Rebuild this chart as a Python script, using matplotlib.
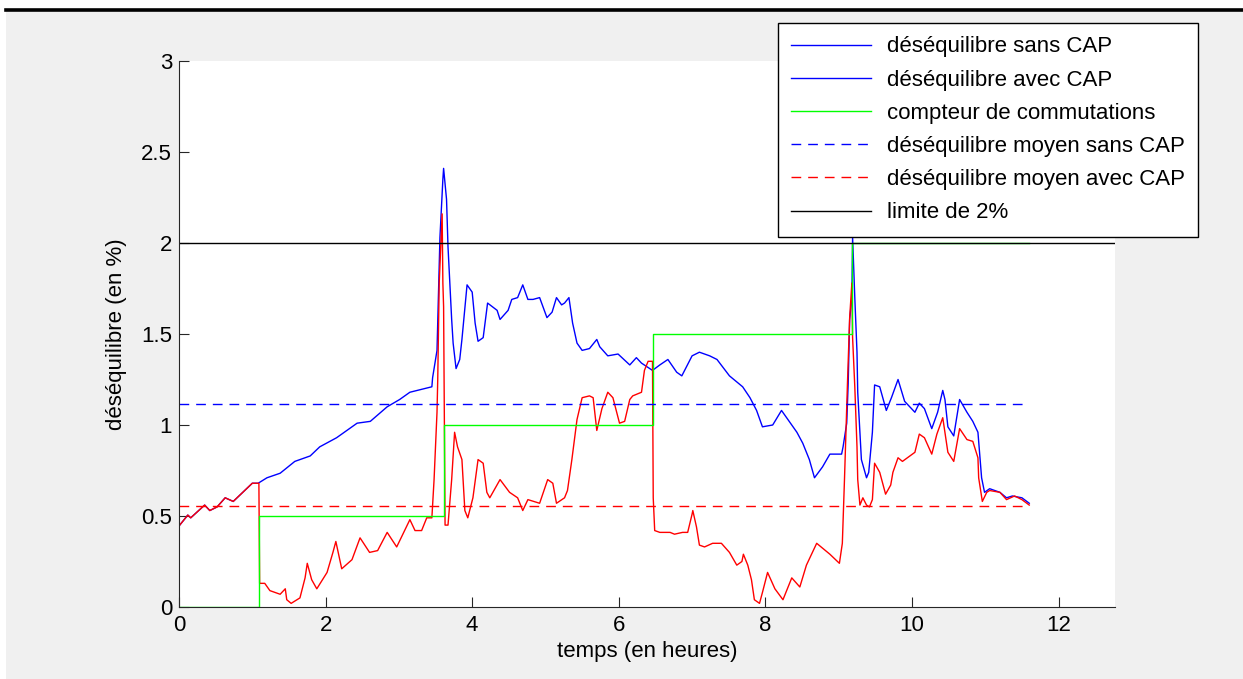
import matplotlib
matplotlib.use("Agg")
import matplotlib.pyplot as plt
from matplotlib.lines import Line2D
from matplotlib.patches import Rectangle
from matplotlib.ticker import FormatStrFormatter

plt.rcParams["font.family"] = ["Liberation Sans", "DejaVu Sans"]

# déséquilibre sans CAP (temps en heures, déséquilibre en %)
t_sans = [0.00, 0.12, 0.16, 0.35, 0.42, 0.52, 0.63, 0.74, 1.00, 1.08, 1.20, 1.38,
          1.58, 1.79, 1.92, 2.15, 2.43, 2.61, 2.84, 3.01, 3.15, 3.45, 3.46, 3.52,
          3.53, 3.56, 3.60, 3.61, 3.65, 3.67, 3.70, 3.72, 3.74, 3.78, 3.83, 3.86,
          3.93, 4.00, 4.04, 4.08, 4.15, 4.21, 4.34, 4.38, 4.49, 4.54, 4.62, 4.69,
          4.76, 4.83, 4.92, 5.02, 5.09, 5.15, 5.22, 5.26, 5.32, 5.37, 5.43, 5.50,
          5.60, 5.70, 5.74, 5.85, 5.99, 6.15, 6.24, 6.31, 6.46, 6.56, 6.67, 6.79,
          6.86, 7.00, 7.10, 7.24, 7.34, 7.51, 7.69, 7.79, 7.88, 7.96, 8.10, 8.22,
          8.29, 8.43, 8.51, 8.60, 8.67, 8.78, 8.88, 9.04, 9.06, 9.11, 9.13, 9.15,
          9.18, 9.19, 9.22, 9.25, 9.26, 9.31, 9.38, 9.41, 9.46, 9.49, 9.56, 9.63,
          9.65, 9.72, 9.81, 9.90, 10.04, 10.10, 10.17, 10.27, 10.35, 10.42, 10.45,
          10.49, 10.57, 10.65, 10.75, 10.83, 10.90, 10.95, 10.99, 11.06, 11.20,
          11.29, 11.37, 11.50, 11.60]
d_sans = [0.445, 0.505, 0.49, 0.56, 0.53, 0.55, 0.60, 0.58, 0.68, 0.68, 0.71, 0.735,
          0.80, 0.83, 0.88, 0.93, 1.01, 1.02, 1.10, 1.14, 1.18, 1.21, 1.26, 1.41,
          1.56, 2.03, 2.35, 2.41, 2.24, 1.98, 1.74, 1.58, 1.45, 1.31, 1.36, 1.47,
          1.77, 1.73, 1.56, 1.46, 1.48, 1.67, 1.63, 1.58, 1.63, 1.69, 1.70, 1.77,
          1.69, 1.69, 1.70, 1.59, 1.62, 1.70, 1.66, 1.67, 1.70, 1.56, 1.45, 1.41,
          1.42, 1.47, 1.43, 1.38, 1.39, 1.33, 1.37, 1.34, 1.30, 1.33, 1.36, 1.29,
          1.27, 1.38, 1.40, 1.38, 1.36, 1.27, 1.21, 1.15, 1.08, 0.99, 1.00, 1.08,
          1.04, 0.96, 0.90, 0.81, 0.71, 0.77, 0.84, 0.84, 0.88, 1.01, 1.23, 1.58,
          1.70, 2.03, 1.70, 1.40, 1.18, 0.81, 0.71, 0.74, 0.96, 1.22, 1.21, 1.11,
          1.08, 1.15, 1.25, 1.13, 1.07, 1.12, 1.09, 0.98, 1.07, 1.19, 1.14,
          0.99, 0.94, 1.14, 1.07, 1.02, 0.96, 0.71, 0.63, 0.65, 0.63,
          0.60, 0.61, 0.60, 0.57]

# déséquilibre avec CAP
t_avec = [0.00, 0.12, 0.16, 0.35, 0.42, 0.52, 0.63, 0.74, 1.00, 1.09, 1.10, 1.17,
          1.24, 1.38, 1.45, 1.47, 1.53, 1.65, 1.72, 1.75, 1.81, 1.88, 2.02, 2.10,
          2.14, 2.22, 2.36, 2.47, 2.60, 2.71, 2.84, 2.97, 3.15, 3.22, 3.31, 3.38,
          3.45, 3.48, 3.52, 3.53, 3.55, 3.59, 3.60, 3.61, 3.63, 3.67, 3.72, 3.76,
          3.80, 3.86, 3.90, 3.94, 4.01, 4.08, 4.15, 4.20, 4.24, 4.38, 4.51, 4.62,
          4.69, 4.76, 4.92, 5.03, 5.10, 5.15, 5.26, 5.30, 5.36, 5.43, 5.50, 5.60,
          5.65, 5.70, 5.77, 5.85, 5.92, 6.01, 6.08, 6.15, 6.19, 6.31, 6.35, 6.40,
          6.46, 6.47, 6.49, 6.56, 6.70, 6.76, 6.87, 6.94, 7.00, 7.01, 7.06, 7.10,
          7.17, 7.28, 7.40, 7.51, 7.61, 7.68, 7.70, 7.76, 7.81, 7.85, 7.92, 7.96,
          8.03, 8.13, 8.24, 8.36, 8.47, 8.56, 8.70, 8.88, 9.01, 9.05, 9.08, 9.12,
          9.15, 9.18, 9.19, 9.22, 9.25, 9.26, 9.29, 9.33, 9.38, 9.42, 9.46, 9.49,
          9.56, 9.64, 9.71, 9.74, 9.81, 9.87, 10.04, 10.10, 10.17, 10.27, 10.34,
          10.42, 10.49, 10.57, 10.65, 10.75, 10.83, 10.90, 10.91, 10.96, 11.02,
          11.06, 11.20, 11.29, 11.40, 11.50, 11.60]
d_avec = [0.445, 0.505, 0.49, 0.56, 0.53, 0.55, 0.60, 0.58, 0.68, 0.68, 0.13, 0.13,
          0.09, 0.07, 0.10, 0.04, 0.02, 0.05, 0.16, 0.24, 0.15, 0.10, 0.19, 0.30,
          0.36, 0.21, 0.26, 0.38, 0.30, 0.31, 0.41, 0.33, 0.48, 0.42, 0.42, 0.49,
          0.49, 0.70, 1.07, 1.25, 1.78, 2.16, 1.78, 1.65, 0.45, 0.45, 0.70, 0.96,
          0.88, 0.81, 0.53, 0.49, 0.60, 0.81, 0.79, 0.63, 0.60, 0.70, 0.63, 0.60,
          0.53, 0.59, 0.57, 0.70, 0.68, 0.57, 0.60, 0.64, 0.81, 1.03, 1.15, 1.16,
          1.15, 0.97, 1.09, 1.18, 1.15, 1.01, 1.02, 1.14, 1.16, 1.18, 1.30, 1.35,
          1.35, 0.60, 0.42, 0.41, 0.41, 0.40, 0.41, 0.41, 0.51, 0.53, 0.44, 0.34,
          0.33, 0.35, 0.35, 0.30, 0.23, 0.25, 0.29, 0.23, 0.15, 0.04, 0.02, 0.08,
          0.19, 0.10, 0.04, 0.16, 0.11, 0.23, 0.35, 0.29, 0.24, 0.35, 0.71, 1.23,
          1.59, 1.78, 1.48, 1.21, 0.88, 0.70, 0.56, 0.60, 0.56, 0.55, 0.59, 0.79,
          0.74, 0.62, 0.67, 0.74, 0.82, 0.80, 0.85, 0.95, 0.93, 0.84, 0.95,
          1.04, 0.85, 0.80, 0.98, 0.92, 0.91, 0.82, 0.71, 0.58, 0.63,
          0.64, 0.63, 0.59, 0.61, 0.59, 0.56]

# compteur de commutations (paliers)
t_comm = [0.00, 1.09, 1.09, 3.61, 3.61, 6.47, 6.47, 9.18, 9.18, 11.60]
n_comm = [0.0, 0.0, 0.5, 0.5, 1.0, 1.0, 1.5, 1.5, 2.0, 2.0]

moyen_sans = 1.115
moyen_avec = 0.555
limite = 2.0
t_fin = 11.60

labels = [
    "déséquilibre sans CAP",
    "déséquilibre avec CAP",
    "compteur de commutations",
    "déséquilibre moyen sans CAP",
    "déséquilibre moyen avec CAP",
    "limite de 2%",
]

FS = 16
DASH = (0, (7, 5))

W, H = 1243, 679
fig = plt.figure(figsize=(W / 100, H / 100), dpi=100, facecolor="#F0F0F0")

# white margin and thick black bar at the top of the figure
fig.patches.append(Rectangle((0, 1 - 9 / H), 1, 9 / H, transform=fig.transFigure,
                             facecolor="white", edgecolor="none", zorder=0))
fig.patches.append(Rectangle((0, 0), 6 / W, 1, transform=fig.transFigure,
                             facecolor="white", edgecolor="none", zorder=0))
fig.add_artist(Line2D([6 / W, 1], [1 - 9.5 / H, 1 - 9.5 / H], transform=fig.transFigure,
                      color="black", lw=2.6))

ax = fig.add_axes([179 / W, 1 - 607 / H, (1115 - 179) / W, (607 - 61) / H])
ax.set_facecolor("white")

ax.plot(t_sans, d_sans, color="#0000FF", lw=1.0)
ax.plot(t_avec, d_avec, color="#FF0000", lw=1.0)
ax.plot(t_comm, n_comm, color="#00FF00", lw=1.0)
ax.plot([0, t_fin], [moyen_sans, moyen_sans], color="#0000FF", lw=1.0, ls=DASH)
ax.plot([0, t_fin], [moyen_avec, moyen_avec], color="#FF0000", lw=1.0, ls=DASH)
ax.axhline(limite, color="black", lw=1.0)

ax.set_xlim(0, 12.77)
ax.set_ylim(0, 3)
ax.set_xticks(range(0, 13, 2))
ax.set_yticks([0, 0.5, 1, 1.5, 2, 2.5, 3])
ax.yaxis.set_major_formatter(FormatStrFormatter("%g"))

for side in ("top", "right"):
    ax.spines[side].set_visible(False)
for side in ("left", "bottom"):
    ax.spines[side].set_color("#262626")
    ax.spines[side].set_linewidth(0.8)

ax.tick_params(direction="in", length=7, width=0.8, color="#262626", labelsize=FS)
ax.tick_params(axis="x", pad=6)
ax.tick_params(axis="y", pad=5)

ax.set_xlabel("temps (en heures)", fontsize=FS, labelpad=3)
ax.set_ylabel("déséquilibre (en %)", fontsize=FS, labelpad=10)

handles = [
    Line2D([], [], color="#0000FF", lw=1.0),
    Line2D([], [], color="#0000FF", lw=1.0),
    Line2D([], [], color="#00FF00", lw=1.0),
    Line2D([], [], color="#0000FF", lw=1.0, ls=DASH),
    Line2D([], [], color="#FF0000", lw=1.0, ls=DASH),
    Line2D([], [], color="black", lw=1.0),
]
leg = fig.legend(handles, labels, loc="upper right",
                 bbox_to_anchor=(1198 / W, 1 - 23 / H), fontsize=FS,
                 frameon=True, fancybox=False, shadow=False,
                 handlelength=3.6, handletextpad=0.7, labelspacing=0.55,
                 borderpad=0.6, borderaxespad=0)
leg.get_frame().set_edgecolor("black")
leg.get_frame().set_linewidth(1.0)
leg.get_frame().set_facecolor("white")
leg.get_frame().set_alpha(1)

fig.savefig("out.png", dpi=100, facecolor=fig.get_facecolor())
